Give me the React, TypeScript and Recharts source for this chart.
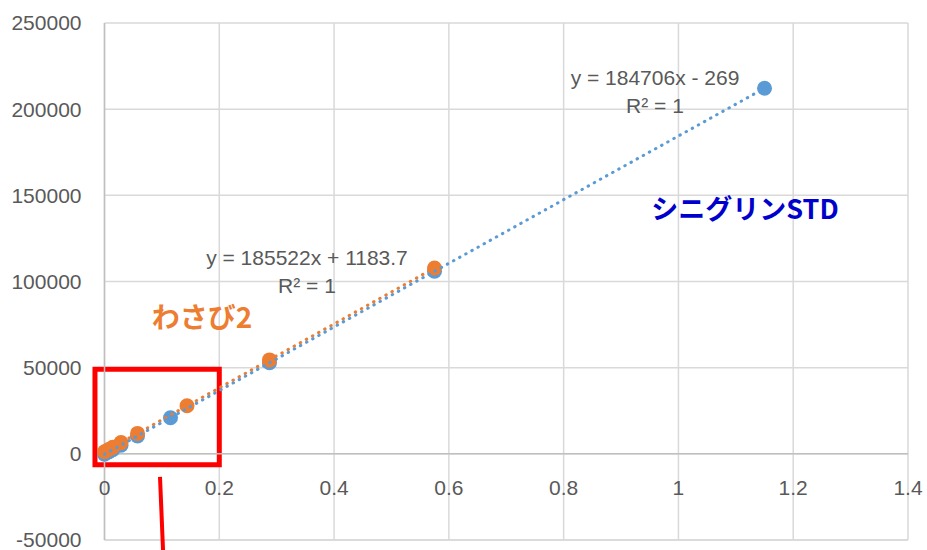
import {
  ComposedChart,
  Scatter,
  XAxis,
  YAxis,
  CartesianGrid,
  ReferenceLine,
  ReferenceArea,
} from "recharts";

// シニグリン標準 (STD) calibration points
const stdX = [0, 0.0072, 0.0144, 0.0288, 0.0575, 0.115, 0.2875, 0.575, 1.15];
const stdY = [-270, 1060, 2390, 5050, 10350, 20970, 52830, 105940, 212140];

// わさび2 sample points
const wasabiX = [0, 0.0072, 0.0144, 0.0288, 0.0575, 0.1438, 0.2875, 0.575];
const wasabiY = [1180, 2520, 3860, 6530, 11850, 27860, 54520, 107860];

// linear trendline endpoints
const stdFitX = [0, 1.15];
const stdFitY = [-269, 212143];
const wasabiFitX = [0, 0.575];
const wasabiFitY = [1184, 107859];

const xTicks = [0, 0.2, 0.4, 0.6, 0.8, 1, 1.2, 1.4];
const yTicks = [-50000, 0, 50000, 100000, 150000, 200000, 250000];

const BLUE = "#5B9BD5";
const ORANGE = "#ED7D31";
const TEXT = "#595959";
const FONT = "'Liberation Sans', Arial, sans-serif";
const JP_FONT = "'Noto Sans CJK JP', sans-serif";

const toPoints = (xs: number[], ys: number[]) => xs.map((x, i) => ({ x, y: ys[i] }));

const stdPoints = toPoints(stdX, stdY);
const wasabiPoints = toPoints(wasabiX, wasabiY);
const stdFit = toPoints(stdFitX, stdFitY);
const wasabiFit = toPoints(wasabiFitX, wasabiFitY);

const marker = (color: string) => (props: any) => (
  <circle cx={props.cx} cy={props.cy} r={7.5} fill={color} />
);
const noMarker = () => <g />;

const dotted = (color: string) => ({
  stroke: color,
  strokeWidth: 3,
  strokeDasharray: "0.5 6.5",
  strokeLinecap: "round" as const,
});

const XTick = ({ x, y, payload }: any) => (
  <text
    x={x}
    y={y - 52}
    dy="0.355em"
    textAnchor="middle"
    fill={TEXT}
    fontSize={21}
    fontFamily={FONT}
  >
    {payload.value}
  </text>
);

const note = (cx: number, cy: number, extra: any = {}) => ({
  position: "absolute" as const,
  left: cx,
  top: cy,
  transform: "translate(-50%, -50%)",
  whiteSpace: "nowrap" as const,
  lineHeight: 1,
  fontFamily: FONT,
  fontSize: 21,
  color: TEXT,
  ...extra,
});

export default function App() {
  return (
    <div
      style={{
        position: "absolute",
        left: 0,
        top: 0,
        width: 927,
        height: 550,
        background: "#fff",
        overflow: "hidden",
      }}
    >
      <ComposedChart
        width={927}
        height={550}
        margin={{ top: 23, right: 19, left: 0, bottom: 0 }}
      >
        <CartesianGrid stroke="#d9d9d9" strokeWidth={1.5} />
        <XAxis
          type="number"
          dataKey="x"
          domain={[0, 1.4]}
          ticks={xTicks}
          interval={0}
          height={10}
          axisLine={false}
          tickLine={false}
          tickSize={0}
          tickMargin={0}
          tick={<XTick />}
        />
        <YAxis
          type="number"
          dataKey="y"
          domain={[-50000, 250000]}
          ticks={yTicks}
          interval={0}
          width={104.5}
          axisLine={{ stroke: "#bfbfbf", strokeWidth: 1.5 }}
          tickLine={false}
          tickSize={0}
          tickMargin={23}
          tick={{ fill: TEXT, fontSize: 21, fontFamily: FONT }}
        />
        <ReferenceLine y={0} stroke="#bfbfbf" strokeWidth={1.5} />
        <ReferenceLine y={-50000} stroke="#d9d9d9" strokeWidth={1.5} />

        <Scatter
          data={stdPoints}
          dataKey="y"
          shape={marker(BLUE)}
          isAnimationActive={false}
        />
        <Scatter
          data={wasabiPoints}
          dataKey="y"
          shape={marker(ORANGE)}
          isAnimationActive={false}
        />
        <Scatter
          data={wasabiFit}
          dataKey="y"
          line={dotted(ORANGE)}
          shape={noMarker}
          isAnimationActive={false}
        />
        <Scatter
          data={stdFit}
          dataKey="y"
          line={dotted(BLUE)}
          shape={noMarker}
          isAnimationActive={false}
        />

        {/* callout box around the low-concentration region */}
        <ReferenceArea
          x1={-0.0166}
          x2={0.2}
          y1={-6380}
          y2={49010}
          ifOverflow="visible"
          fill="none"
          fillOpacity={0}
          stroke="#ff0000"
          strokeWidth={5}
        />
        <ReferenceLine
          segment={[
            { x: 0.0967, y: -13340 },
            { x: 0.102, y: -56000 },
          ]}
          ifOverflow="visible"
          stroke="#ff0000"
          strokeWidth={4}
        />
      </ComposedChart>

      <div style={note(655, 77)}>y = 184706x - 269</div>
      <div style={note(655, 105)}>R² = 1</div>
      <div style={note(307, 257)}>y = 185522x + 1183.7</div>
      <div style={note(307, 285)}>R² = 1</div>
      <div
        style={note(745, 207, {
          fontFamily: JP_FONT,
          fontWeight: 700,
          fontSize: 27,
          color: "#0000CC",
        })}
      >
        シニグリンSTD
      </div>
      <div
        style={note(202, 316, {
          fontFamily: JP_FONT,
          fontWeight: 700,
          fontSize: 28,
          color: ORANGE,
        })}
      >
        わさび2
      </div>
    </div>
  );
}
